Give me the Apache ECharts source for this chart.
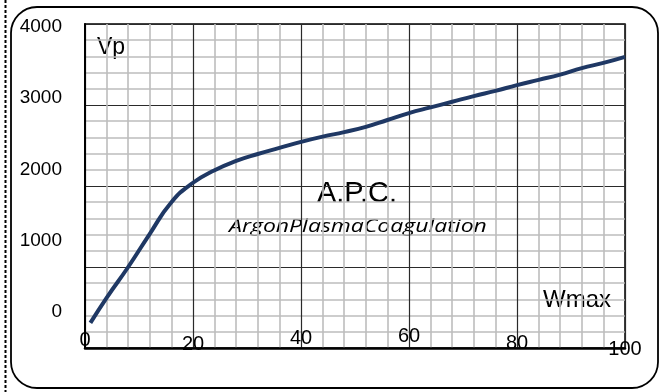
<!DOCTYPE html>
<html><head><meta charset="utf-8">
<script src="https://cdn.jsdelivr.net/npm/echarts@6/dist/echarts.min.js"></script>
<style>html,body{margin:0;padding:0;background:#fff}#c{width:660px;height:392px}</style>
</head><body><div id="c"></div>
<script>
// ---- data ----
const wmax = [1, 4, 8, 12, 16, 20, 24, 28, 32, 36, 40, 44, 48, 52, 56, 60, 64, 68, 72, 76, 80, 84, 88, 92, 96, 100];
const vp   = [310, 620, 1000, 1410, 1800, 2040, 2195, 2310, 2395, 2470, 2545, 2610, 2665, 2730, 2815, 2900, 2970, 3040, 3110, 3175, 3245, 3310, 3375, 3455, 3520, 3595];
const xTickLabels = [0, 20, 40, 60, 80, 100];
const yTickLabels = [0, 1000, 2000, 3000, 4000];
const yName = 'Vp';
const xName = 'Wmax';
const titleText = 'A.P.C.';
const subtitleText = 'ArgonPlasmaCoagulation';

// ---- styles ----
const FONT = '"Liberation Sans", Arial, sans-serif';
const xLabelPad = {0: 8, 20: 16, 40: 4, 60: 0, 80: 14, 100: 26};
const rich = {};
xTickLabels.forEach(v => {
  rich['t' + v] = {padding: [xLabelPad[v], 0, 0, 0], fontSize: 20, fontFamily: FONT, color: '#000', lineHeight: 20};
});
const majorLine = {show: true, lineStyle: {color: '#2a2a2a', width: 1.2}};
const minorLine = {show: true, lineStyle: {color: '#bdbdbd', width: 1.6}};

const chart = echarts.init(document.getElementById('c'), null, {renderer: 'canvas'});
chart.setOption({
  backgroundColor: '#fff',
  animation: false,
  grid: {left: 85, top: 24, right: 35, bottom: 44, show: true, borderColor: '#000', borderWidth: 1.5, backgroundColor: 'transparent'},
  xAxis: {
    type: 'value', min: 0, max: 100, interval: 20,
    axisLine: {show: true, onZero: false, lineStyle: {color: '#000', width: 2.5}},
    axisTick: {show: false},
    minorTick: {show: false, splitNumber: 5},
    splitLine: majorLine,
    minorSplitLine: minorLine,
    axisLabel: {margin: -22, verticalAlign: 'top', formatter: v => '{t' + v + '|' + v + '}', rich: rich}
  },
  yAxis: [{
    type: 'value', min: 0, max: 4000, interval: 1000,
    axisLine: {show: true, onZero: false, lineStyle: {color: '#000', width: 2}},
    axisTick: {show: false},
    axisLabel: {show: false},
    minorTick: {show: false, splitNumber: 5},
    splitLine: majorLine,
    minorSplitLine: minorLine
  }, {
    type: 'value', min: -505, max: 4038, position: 'left',
    axisLine: {show: false}, axisTick: {show: false}, splitLine: {show: false},
    axisLabel: {customValues: yTickLabels, formatter: v => String(v), margin: 23, fontSize: 19, fontFamily: FONT, color: '#000'}
  }],
  series: [{
    type: 'line', xAxisIndex: 0, yAxisIndex: 0,
    data: wmax.map((x, i) => [x, vp[i]]),
    smooth: 0.5, showSymbol: false, symbol: 'none',
    lineStyle: {color: '#1f3864', width: 4}
  }],
  graphic: [
    {type: 'line', shape: {x1: 5.5, y1: 0, x2: 5.5, y2: 392}, style: {stroke: '#000', lineWidth: 2, lineDash: [3, 2]}},
    {type: 'rect', shape: {x: 11, y: 7, width: 647, height: 381, r: 26}, style: {fill: 'none', stroke: '#000', lineWidth: 1.8}},
    {type: 'text', x: 97, y: 48, style: {text: yName, fontSize: 23, fontFamily: FONT, fill: '#000', align: 'left', verticalAlign: 'middle'}},
    {type: 'text', x: 543, y: 300, style: {text: xName, fontSize: 24, fontFamily: FONT, fill: '#000', align: 'left', verticalAlign: 'middle'}},
    {type: 'text', x: 357, y: 194, style: {text: titleText, fontSize: 29, fontFamily: FONT, fill: '#000', align: 'center', verticalAlign: 'middle'}},
    {type: 'text', x: 229, y: 227, scaleX: 1.21, style: {text: subtitleText, fontSize: 19, fontFamily: '"Open Sans", sans-serif', fontStyle: 'italic', fill: '#000', align: 'left', verticalAlign: 'middle'}}
  ]
});
</script></body></html>
